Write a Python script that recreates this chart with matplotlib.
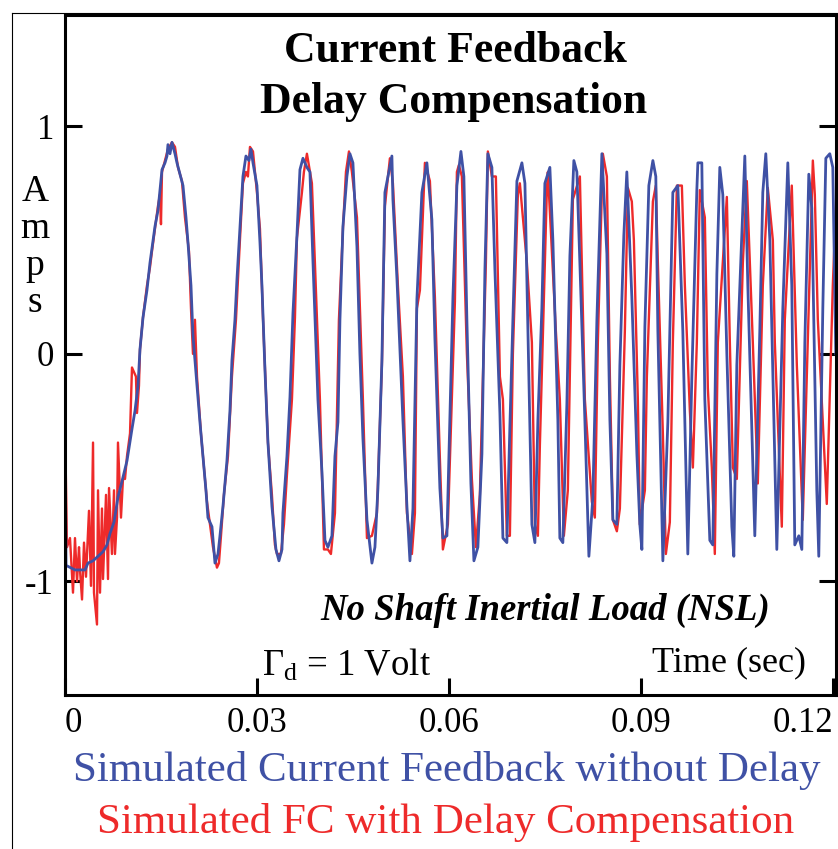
import numpy as np
import matplotlib.pyplot as plt
from matplotlib.lines import Line2D

plt.rcParams['font.family'] = ['Liberation Serif', 'DejaVu Serif']
plt.rcParams['mathtext.fontset'] = 'custom'
plt.rcParams['mathtext.rm'] = 'Liberation Serif'
plt.rcParams['mathtext.it'] = 'Liberation Serif:italic'

# tiempos en ms, corriente en amperios
t_blue_ms = [0.00, 0.16, 1.56, 3.13, 3.59, 4.38, 5.16, 5.94, 6.56, 7.03, 7.66, 8.28, 8.91,
             9.69, 10.47, 10.94, 11.41, 11.72, 12.19, 12.81, 13.28, 14.06, 14.53, 14.84,
             15.16, 15.63, 15.94, 16.09, 16.41, 16.72, 17.19, 17.50, 17.97, 18.44, 18.91,
             19.22, 19.69, 20.00, 20.63, 21.09, 21.56, 22.03, 22.34, 22.97, 23.44, 23.91,
             24.22, 24.69, 25.31, 25.78, 26.09, 26.56, 26.88, 27.34, 27.81, 28.28, 28.75,
             29.06, 29.38, 30.00, 30.47, 30.78, 31.25, 31.72, 32.34, 32.97, 33.44, 33.91,
             34.06, 34.69, 35.16, 35.63, 36.25, 36.72, 37.19, 37.81, 38.28, 38.75, 39.53,
             40.16, 40.63, 41.09, 41.72, 42.19, 42.66, 42.97, 43.44, 44.06, 44.53, 45.00,
             45.63, 46.09, 46.56, 47.19, 47.97, 48.44, 48.91, 49.53, 50.00, 50.47, 51.09,
             51.25, 51.88, 52.81, 53.44, 53.91, 54.38, 55.00, 55.78, 56.56, 57.34, 57.81,
             58.59, 59.06, 59.69, 60.63, 61.25, 61.88, 62.34, 62.81, 63.44, 63.91, 64.53,
             65.16, 65.63, 66.09, 66.72, 67.19, 67.97, 68.44, 69.06, 69.53, 70.00, 70.63,
             71.41, 71.88, 72.34, 72.97, 73.44, 73.91, 74.53, 75.00, 75.78, 76.25, 77.03,
             77.34, 77.81, 78.44, 78.91, 79.53, 80.00, 80.47, 81.25, 81.88, 82.50, 83.13,
             83.91, 84.69, 85.16, 85.63, 86.25, 86.72, 87.34, 87.81, 88.59, 89.38, 89.84,
             90.16, 90.63, 91.25, 91.88, 92.34, 92.66, 93.44, 94.22, 95.00, 95.78, 96.56,
             97.34, 97.97, 98.75, 98.91, 99.53, 100.00, 100.78, 101.25, 101.88, 102.34,
             102.81, 103.44, 104.22, 104.53, 105.00, 106.25, 106.72, 107.81, 108.59, 109.06,
             109.53, 110.16, 111.25, 112.19, 112.97, 113.59, 114.06, 114.69, 115.16, 115.63,
             116.25, 116.72, 117.50, 117.81, 118.44, 118.91, 119.53, 120.00, 120.47]
i_blue = [-0.25, -0.93, -0.95, -0.95, -0.92, -0.91, -0.89, -0.87, -0.84, -0.79, -0.74, -0.63,
          -0.56, -0.47, -0.33, -0.25, -0.14, 0.02, 0.16, 0.28, 0.40, 0.56, 0.63, 0.72, 0.81,
          0.84, 0.87, 0.92, 0.88, 0.93, 0.88, 0.84, 0.79, 0.74, 0.60, 0.49, 0.30, 0.08, -0.14,
          -0.30, -0.45, -0.60, -0.72, -0.76, -0.92, -0.88, -0.80, -0.67, -0.47, -0.25, -0.03,
          0.15, 0.33, 0.55, 0.78, 0.87, 0.85, 0.90, 0.84, 0.74, 0.49, 0.30, -0.07, -0.39,
          -0.67, -0.86, -0.91, -0.86, -0.70, -0.45, -0.19, 0.18, 0.52, 0.81, 0.86, 0.82, 0.80,
          0.41, -0.20, -0.52, -0.82, -0.85, -0.80, -0.45, -0.30, 0.15, 0.56, 0.78, 0.88, 0.84,
          0.47, 0.00, -0.37, -0.73, -0.92, -0.85, -0.59, -0.03, 0.71, 0.78, 0.87, 0.68, 0.33,
          -0.29, -0.67, -0.91, -0.68, 0.24, 0.71, 0.84, 0.59, 0.07, -0.59, -0.81, -0.80, 0.25,
          0.74, 0.89, 0.78, 0.15, -0.57, -0.91, -0.85, -0.44, 0.37, 0.88, 0.82, 0.37, -0.26,
          -0.81, -0.83, -0.32, 0.15, 0.76, 0.84, 0.75, 0.12, -0.75, -0.83, -0.29, 0.20, 0.75,
          0.82, 0.50, -0.29, -0.81, -0.83, -0.22, 0.43, 0.85, 0.80, 0.40, -0.29, -0.89, -0.63,
          0.15, 0.88, 0.44, -0.29, -0.73, -0.75, -0.05, 0.52, 0.80, 0.25, -0.44, -0.75, -0.86,
          0.12, 0.74, 0.85, 0.78, 0.10, -0.91, -0.30, 0.71, 0.74, 0.10, -0.88, -0.10, 0.72,
          0.84, 0.84, -0.20, -0.82, -0.84, 0.35, 0.82, 0.70, 0.00, -0.76, -0.89, -0.05, 0.87,
          0.30, -0.80, 0.10, 0.71, 0.88, 0.50, -0.86, 0.20, 0.84, 0.30, -0.84, -0.80, -0.86,
          0.05, 0.79, 0.64, -0.60, -0.89, 0.20, 0.86, 0.88, 0.82, 0.00]

t_red_ms = [0.00, 0.31, 0.78, 1.25, 1.56, 1.88, 2.19, 2.34, 2.66, 2.97, 3.28, 3.75, 4.06,
            4.38, 4.53, 5.00, 5.16, 5.47, 5.78, 5.94, 6.41, 6.72, 6.88, 7.34, 7.66, 7.81,
            8.13, 8.28, 8.75, 9.06, 9.38, 9.69, 10.16, 10.47, 11.09, 11.25, 11.56, 11.72,
            12.19, 12.81, 13.28, 13.59, 14.06, 14.53, 14.84, 15.00, 15.16, 15.63, 16.09,
            16.72, 17.19, 17.66, 18.28, 18.75, 19.38, 19.69, 20.00, 20.31, 20.63, 21.25,
            21.72, 22.19, 22.66, 23.13, 23.75, 24.06, 24.38, 24.84, 25.47, 26.09, 26.72,
            27.34, 27.81, 28.28, 28.59, 28.91, 29.38, 30.00, 30.47, 30.94, 31.72, 32.34,
            32.81, 33.13, 33.75, 34.22, 34.69, 35.47, 35.94, 36.25, 37.03, 37.34, 37.81,
            38.28, 38.59, 39.06, 39.84, 40.47, 41.09, 41.56, 42.19, 42.81, 43.44, 43.91,
            44.38, 44.84, 45.63, 46.56, 47.19, 47.97, 48.75, 49.53, 50.00, 50.78, 51.25,
            52.03, 52.81, 53.44, 54.22, 54.69, 55.00, 55.47, 56.25, 57.03, 57.81, 58.59,
            59.06, 59.84, 60.94, 61.25, 61.56, 62.03, 62.81, 63.59, 64.22, 64.84, 65.78,
            66.09, 66.72, 67.34, 67.97, 68.44, 69.06, 69.53, 70.00, 70.78, 71.09, 72.19,
            72.97, 73.44, 73.91, 74.22, 75.31, 75.47, 76.72, 77.34, 77.97, 78.59, 79.38,
            80.47, 81.25, 82.34, 82.81, 83.28, 84.06, 84.69, 85.16, 85.63, 86.25, 86.72,
            87.50, 87.97, 88.59, 88.91, 89.53, 89.84, 90.63, 90.94, 91.88, 92.34, 92.66,
            93.44, 93.91, 94.53, 95.00, 95.63, 96.41, 96.88, 97.66, 98.13, 98.75, 99.22,
            100.00, 100.47, 101.09, 101.56, 102.03, 103.44, 103.91, 104.38, 105.00, 105.94,
            106.56, 107.50, 108.28, 109.06, 109.84, 110.63, 110.94, 112.03, 112.50, 113.59,
            114.38, 115.31, 116.09, 116.88, 117.19, 117.66, 119.06, 120.00, 120.63]
i_red = [-0.30, -0.85, -0.81, -1.05, -0.81, -1.00, -0.85, -0.95, -1.08, -0.83, -0.98, -0.69,
         -1.02, -0.39, -1.05, -1.19, -0.60, -1.05, -0.68, -0.99, -0.62, -0.99, -0.59, -0.88,
         -0.60, -0.88, -0.72, -0.39, -0.72, -0.55, -0.55, -0.45, -0.35, -0.06, -0.10, -0.26,
         -0.14, 0.02, 0.16, 0.30, 0.38, 0.45, 0.55, 0.65, 0.70, 0.57, 0.80, 0.85, 0.90, 0.93,
         0.91, 0.82, 0.76, 0.60, 0.45, 0.20, 0.00, 0.15, -0.10, -0.35, -0.50, -0.65, -0.75,
         -0.85, -0.94, -0.92, -0.80, -0.62, -0.45, -0.10, 0.15, 0.50, 0.75, 0.80, 0.78, 0.91,
         0.89, 0.71, 0.55, 0.16, -0.39, -0.62, -0.84, -0.88, -0.88, -0.75, -0.53, -0.20, 0.16,
         0.51, 0.71, 0.80, 0.88, 0.80, 0.75, 0.40, -0.20, -0.86, -0.86, -0.88, -0.70, 0.15,
         0.55, 0.80, 0.89, 0.80, 0.60, -0.20, -0.81, -0.80, -0.70, -0.05, 0.65, 0.86, 0.75,
         0.30, -0.10, -0.70, -0.88, -0.70, 0.20, 0.28, 0.84, 0.76, 0.25, -0.46, -0.86, -0.75,
         0.23, 0.80, 0.83, 0.78, 0.00, -0.55, -0.85, -0.62, 0.40, 0.89, 0.78, 0.78, -0.10,
         -0.20, -0.80, -0.80, 0.00, 0.70, 0.75, 0.40, 0.05, -0.75, -0.80, -0.40, 0.72, 0.80,
         0.10, -0.20, -0.80, -0.60, 0.68, 0.78, -0.20, -0.65, -0.72, 0.05, 0.88, 0.78, -0.10,
         -0.73, -0.78, -0.68, 0.10, 0.73, 0.67, 0.50, -0.20, -0.75, -0.60, -0.10, 0.67, 0.74,
         0.40, -0.35, -0.88, -0.74, 0.05, 0.74, 0.74, 0.30, -0.25, -0.50, 0.05, 0.72, 0.60,
         -0.15, -0.50, -0.88, 0.05, 0.69, 0.05, -0.50, -0.55, 0.40, 0.76, 0.05, -0.57, 0.30,
         0.73, 0.50, 0.05, -0.76, 0.15, 0.74, -0.05, -0.73, 0.05, 0.85, 0.70, 0.15, -0.66,
         0.30, 0.75]

x_ticks = [0, 0.03, 0.06, 0.09, 0.12]
x_labels = ['0', '0.03', '0.06', '0.09', '0.12']
y_ticks = [-1, 0, 1]
y_labels = ['-1', '0', '1']

azul = '#3f51a5'
rojo = '#ee2a2a'

W, H = 838, 849
fig = plt.figure(figsize=(W / 100, H / 100), dpi=100)
ax = fig.add_axes([65 / W, 1 - 695 / H, (836 - 65) / W, (695 - 15) / H])

ax.plot(np.array(t_red_ms) / 1000, i_red, color=rojo, lw=1.7)
ax.plot(np.array(t_blue_ms) / 1000, i_blue, color=azul, lw=2.0)

ax.set_xlim(0, 0.1205)
ax.set_ylim(-1.5, 1.49)
ax.set_xticks(x_ticks)
ax.set_xticklabels(x_labels, fontsize=25)
ax.set_yticks(y_ticks)
ax.set_yticklabels(y_labels, fontsize=25)
xl = ax.get_xticklabels()
xl[0].set_ha('left')
xl[-1].set_ha('right')
ax.tick_params(axis='both', direction='in', length=12, width=2.2)
ax.tick_params(axis='y', right=True, pad=8)
ax.tick_params(axis='x', pad=9)
for s in ax.spines.values():
    s.set_linewidth(2.2)

# recuadro exterior fino
fig.add_artist(Line2D([12 / W, 12 / W], [0, 1 - 13 / H], color='black', lw=0.8))
fig.add_artist(Line2D([12 / W, 1], [1 - 13 / H, 1 - 13 / H], color='black', lw=0.8))

# titulo
fig.text(455 / W, 1 - 51 / H, 'Current Feedback', ha='center', va='center',
         fontsize=31.5, fontweight='bold')
fig.text(454 / W, 1 - 102 / H, 'Delay Compensation', ha='center', va='center',
         fontsize=31.5, fontweight='bold')

# etiqueta vertical
fig.text(35 / W, 1 - 247 / H, 'A\nm\np\ns', ha='center', va='center', fontsize=27,
         linespacing=1.1)

fig.text(545 / W, 1 - 610 / H, 'No Shaft Inertial Load (NSL)', ha='center', va='center',
         fontsize=26.5, fontweight='bold', fontstyle='italic')
fig.text(262 / W, 1 - 665 / H, r'$\Gamma_\mathrm{d}$ = 1 Volt', ha='left', va='center',
         fontsize=26.5)
fig.text(652 / W, 1 - 663 / H, 'Time (sec)', ha='left', va='center', fontsize=26)

fig.text(447 / W, 1 - 770 / H, 'Simulated Current Feedback without Delay', ha='center',
         va='center', fontsize=31, color=azul)
fig.text(446 / W, 1 - 822 / H, 'Simulated FC with Delay Compensation', ha='center',
         va='center', fontsize=31, color=rojo)

fig.savefig('out.png', dpi=100)
